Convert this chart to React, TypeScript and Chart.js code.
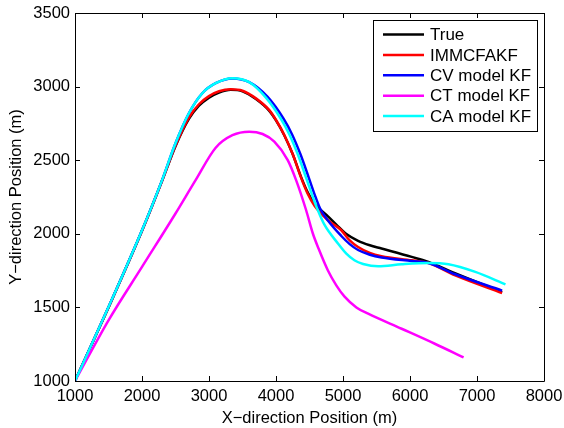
import React, { useEffect, useRef } from 'react';
import { Chart, registerables } from 'chart.js';

Chart.register(...registerables);

const seriesNames = ['True', 'IMMCFAKF', 'CV model KF', 'CT model KF', 'CA model KF'];
const seriesColors = ['#000000', '#ff0000', '#0000ff', '#ff00ff', '#00ffff'];

const trueX = [1000, 1500, 2000, 2300, 2500, 2700, 2850, 3000, 3150, 3325, 3500, 3700, 3900, 4000, 4125, 4250, 4375, 4475, 4575, 4775, 4900, 5050, 5225, 5400, 5575, 6025, 6275, 6670, 7375];
const trueY = [1000, 1500, 2020, 2360, 2595, 2780, 2870, 2925, 2960, 2978, 2968, 2915, 2835, 2770, 2668, 2540, 2385, 2280, 2205, 2118, 2062, 1998, 1952, 1922, 1900, 1843, 1809, 1732, 1604];

const immX = [1000, 1500, 2000, 2300, 2500, 2700, 2850, 3000, 3150, 3325, 3500, 3700, 3900, 4000, 4125, 4250, 4375, 4475, 4575, 4775, 4975, 5100, 5225, 5400, 5575, 6025, 6275, 6675, 7375];
const immY = [1000, 1500, 2020, 2360, 2600, 2790, 2880, 2935, 2968, 2982, 2972, 2920, 2840, 2773, 2670, 2540, 2380, 2270, 2190, 2092, 2024, 1955, 1910, 1870, 1848, 1820, 1802, 1718, 1598];

const cvX = [1000, 1500, 2000, 2300, 2500, 2700, 2900, 3100, 3350, 3600, 3875, 4115, 4240, 4365, 4490, 4590, 4660, 4775, 4975, 5100, 5225, 5400, 5575, 6025, 6275, 6675, 7375];
const cvY = [1000, 1502, 2024, 2365, 2615, 2819, 2955, 3023, 3055, 3030, 2930, 2780, 2675, 2540, 2380, 2250, 2170, 2090, 1985, 1930, 1890, 1858, 1839, 1815, 1802, 1725, 1614];

const ctX = [1000, 1500, 2000, 2500, 2800, 3100, 3350, 3600, 3800, 3975, 4175, 4300, 4450, 4550, 4635, 4775, 4900, 5020, 5200, 5375, 5875, 6370, 6800];
const ctY = [1000, 1412, 1775, 2138, 2365, 2585, 2670, 2694, 2678, 2626, 2501, 2365, 2160, 2002, 1900, 1751, 1650, 1575, 1500, 1457, 1355, 1253, 1160];

const caX = [1000, 1500, 2000, 2300, 2500, 2700, 2900, 3100, 3350, 3600, 3850, 4075, 4200, 4325, 4450, 4550, 4625, 4725, 4925, 5050, 5170, 5300, 5525, 5875, 6275, 6575, 6975, 7425];
const caY = [1000, 1502, 2024, 2365, 2615, 2819, 2955, 3023, 3057, 3030, 2925, 2780, 2675, 2540, 2380, 2250, 2160, 2060, 1934, 1865, 1820, 1795, 1779, 1793, 1802, 1793, 1741, 1657];

const xTicks = [1000, 2000, 3000, 4000, 5000, 6000, 7000, 8000];
const yTicks = [1000, 1500, 2000, 2500, 3000, 3500];

const FONT = "'Liberation Sans', Arial, Helvetica, sans-serif";

const toPoints = (xs: number[], ys: number[]) => xs.map((x, i) => ({ x, y: ys[i] }));

const boxPlugin = {
  id: 'matlabBox',
  afterDatasetsDraw(chart: any) {
    const { ctx, chartArea } = chart;
    const { left, right, top, bottom } = chartArea;
    const xs = chart.scales.x;
    const ys = chart.scales.y;
    ctx.save();
    ctx.strokeStyle = '#000';
    ctx.lineWidth = 1;
    ctx.beginPath();
    ctx.rect(Math.round(left) + 0.5, Math.round(top) + 0.5, Math.round(right - left), Math.round(bottom - top));
    ctx.stroke();
    const tl = 5;
    ctx.beginPath();
    xTicks.forEach((v) => {
      const px = Math.round(xs.getPixelForValue(v)) + 0.5;
      ctx.moveTo(px, bottom);
      ctx.lineTo(px, bottom - tl);
      ctx.moveTo(px, top);
      ctx.lineTo(px, top + tl);
    });
    yTicks.forEach((v) => {
      const py = Math.round(ys.getPixelForValue(v)) + 0.5;
      ctx.moveTo(left, py);
      ctx.lineTo(left + tl, py);
      ctx.moveTo(right, py);
      ctx.lineTo(right - tl, py);
    });
    ctx.stroke();

    // legend
    const lx = 373, ly = 20, lw = 164, lh = 111;
    ctx.fillStyle = '#fff';
    ctx.fillRect(lx, ly, lw, lh);
    ctx.strokeStyle = '#000';
    ctx.lineWidth = 1;
    ctx.strokeRect(lx + 0.5, ly + 0.5, lw, lh);
    ctx.font = `17px ${FONT}`;
    ctx.textBaseline = 'middle';
    ctx.textAlign = 'left';
    seriesNames.forEach((name, i) => {
      const y = 34.5 + i * 20.4;
      ctx.strokeStyle = seriesColors[i];
      ctx.lineWidth = 2.5;
      ctx.beginPath();
      ctx.moveTo(383, y);
      ctx.lineTo(424, y);
      ctx.stroke();
      ctx.fillStyle = '#000';
      ctx.fillText(name, 430, y + 1);
    });
    ctx.restore();
  },
};

export default function App() {
  const ref = useRef<HTMLCanvasElement>(null);
  useEffect(() => {
    document.body.style.margin = '0';
    const all = [
      toPoints(trueX, trueY),
      toPoints(immX, immY),
      toPoints(cvX, cvY),
      toPoints(ctX, ctY),
      toPoints(caX, caY),
    ];
    const chart = new Chart(ref.current!, {
      type: 'scatter',
      data: {
        datasets: all.map((pts, i) => ({
          label: seriesNames[i],
          data: pts,
          showLine: true,
          borderColor: seriesColors[i],
          backgroundColor: seriesColors[i],
          borderWidth: 2.5,
          pointRadius: 0,
          cubicInterpolationMode: 'monotone' as const,
          fill: false,
          order: 5 - i,
        })),
      },
      options: {
        responsive: false,
        animation: false,
        layout: { padding: { left: 0, top: 13, right: 20, bottom: 0 } },
        plugins: { legend: { display: false }, tooltip: { enabled: false } },
        scales: {
          x: {
            type: 'linear',
            min: 1000,
            max: 8000,
            afterBuildTicks: (s: any) => { s.ticks = xTicks.map((v) => ({ value: v })); },
            afterFit: (s: any) => { s.height = 47; s.paddingLeft = 0; s.paddingRight = 0; },
            grid: { display: false, drawTicks: false },
            border: { display: false },
            ticks: { color: '#000', font: { family: FONT, size: 16.5 }, padding: 6, maxRotation: 0, autoSkip: false, callback: (v: any) => String(v) },
            title: { display: true, text: 'X\u2212direction Position (m)', color: '#000', font: { family: FONT, size: 16.5 }, padding: { top: 2, bottom: 0 } },
          },
          y: {
            type: 'linear',
            min: 1000,
            max: 3500,
            afterBuildTicks: (s: any) => { s.ticks = yTicks.map((v) => ({ value: v })); },
            afterFit: (s: any) => { s.width = 75; s.paddingTop = 0; s.paddingBottom = 0; },
            grid: { display: false, drawTicks: false },
            border: { display: false },
            ticks: { color: '#000', font: { family: FONT, size: 16.5 }, padding: 5, autoSkip: false, callback: (v: any) => String(v) },
            title: { display: true, text: 'Y\u2212direction Position (m)', color: '#000', font: { family: FONT, size: 16.5 }, padding: { top: 7, bottom: 0 } },
          },
        },
      },
      plugins: [boxPlugin],
    });
    return () => chart.destroy();
  }, []);
  return (
    <div style={{ position: 'absolute', left: 0, top: 0, width: 564, height: 428, background: '#fff' }}>
      <canvas ref={ref} width={564} height={428} style={{ width: 564, height: 428, display: 'block' }} />
    </div>
  );
}
